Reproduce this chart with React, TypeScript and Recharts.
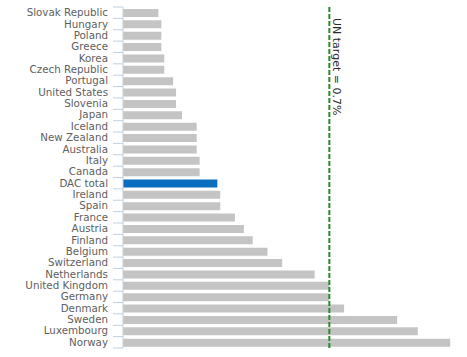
import React from 'react';
import { BarChart, Bar, XAxis, YAxis, ReferenceLine, Cell } from 'recharts';

const countries = [
  'Slovak Republic', 'Hungary', 'Poland', 'Greece', 'Korea', 'Czech Republic', 'Portugal',
  'United States', 'Slovenia', 'Japan', 'Iceland', 'New Zealand', 'Australia', 'Italy',
  'Canada', 'DAC total', 'Ireland', 'Spain', 'France', 'Austria', 'Finland', 'Belgium',
  'Switzerland', 'Netherlands', 'United Kingdom', 'Germany', 'Denmark', 'Sweden',
  'Luxembourg', 'Norway',
];
const odaGni = [
  0.12, 0.13, 0.13, 0.13, 0.14, 0.14, 0.17,
  0.18, 0.18, 0.2, 0.25, 0.25, 0.25, 0.26,
  0.26, 0.32, 0.33, 0.33, 0.38, 0.41, 0.44, 0.49,
  0.54, 0.65, 0.7, 0.7, 0.75, 0.93,
  1.0, 1.11,
];
const highlight = 'DAC total';
const unTarget = 0.7;
const unLabel = 'UN target = 0.7%';

const data = countries.map((country, i) => ({ country, value: odaGni[i] }));

const W = 467;
const H = 357;
const TOP = 7;
const BOTTOM = 9;
const band = (H - TOP - BOTTOM) / countries.length;
const axisColor = '#c0d0e0';

const CategoryTick = (props: any) => {
  const { x, y, payload, index } = props;
  const tx = x + 5;
  return (
    <g>
      <line x1={tx} x2={tx + 10} y1={y - band / 2} y2={y - band / 2} stroke={axisColor} />
      {index === countries.length - 1 && (
        <line x1={tx} x2={tx + 10} y1={y + band / 2} y2={y + band / 2} stroke={axisColor} />
      )}
      <text x={x} y={y} dy={3.5} textAnchor="end" fill="#606060"
        style={{ fontFamily: 'DejaVu Sans', fontSize: 10.3 }}>
        {payload.value}
      </text>
    </g>
  );
};

const TargetLabel = (props: any) => {
  const vb = props.viewBox || {};
  const x = vb.x + 4;
  const y = vb.y + 11;
  return (
    <text x={x} y={y} transform={`rotate(90, ${x}, ${y})`} fill="#2b2b2b"
      style={{ fontFamily: 'DejaVu Sans', fontSize: 11 }}>
      {unLabel}
    </text>
  );
};

export default function App() {
  return (
    <div style={{ position: 'absolute', left: 0, top: 0, width: W, height: H, background: '#fff' }}>
      <BarChart width={W} height={H} data={data} layout="vertical"
        margin={{ top: TOP, right: 5, bottom: BOTTOM, left: 0 }}>
        <XAxis type="number" domain={[0, 1.15]} hide />
        <YAxis type="category" dataKey="country" width={123} interval={0}
          tickSize={10} tickMargin={5} tickLine={false} stroke={axisColor}
          tick={<CategoryTick />} />
        <Bar dataKey="value" barSize={8} isAnimationActive={false}>
          {data.map((d) => (
            <Cell key={d.country} fill={d.country === highlight ? '#0a6ec0' : '#c4c4c4'} />
          ))}
        </Bar>
        <ReferenceLine x={unTarget} stroke="#2a8a2a" strokeWidth={2} strokeDasharray="5 2"
          label={<TargetLabel />} />
      </BarChart>
    </div>
  );
}
